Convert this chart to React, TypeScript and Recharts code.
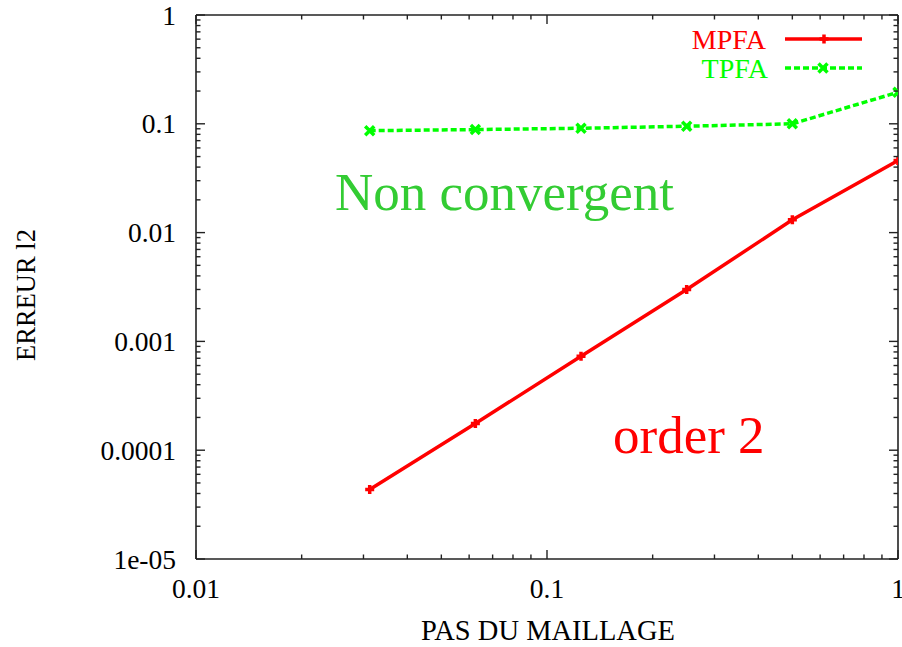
import React from 'react';
import { LineChart, Line, XAxis, YAxis } from 'recharts';

// mesh step h and L2 error of each scheme
const meshSteps = [0.03125, 0.0625, 0.125, 0.25, 0.5, 1];
const mpfaErrors = [4.35e-5, 1.76e-4, 7.3e-4, 3.0e-3, 1.31e-2, 4.6e-2];
const tpfaErrors = [0.0865, 0.0885, 0.091, 0.095, 0.1, 0.195];

const xMajorTicks = [0.01, 0.1, 1];
const xTickLabels = ['0.01', '0.1', '1'];
const yMajorTicks = [1e-5, 1e-4, 1e-3, 1e-2, 1e-1, 1];
const yTickLabels = ['1e-05', '0.0001', '0.001', '0.01', '0.1', '1'];

const data = meshSteps.map((h, i) => ({ h, mpfa: mpfaErrors[i], tpfa: tpfaErrors[i] }));

const FONT = '"Liberation Serif", "Times New Roman", serif';
const W = 902;
const H = 647;
const PLOT = { left: 196, right: 898, top: 15, bottom: 559 };

// majors plus 2..9 inside each decade
const withMinors = (majors: number[]) => {
  const out: number[] = [];
  majors.forEach((m, i) => {
    out.push(m);
    if (i < majors.length - 1) for (let k = 2; k <= 9; k++) out.push(m * k);
  });
  return out;
};

const majorIndex = (majors: number[], v: number) =>
  majors.findIndex((m) => Math.abs(Math.log10(m) - Math.log10(v)) < 1e-6);

const makeTick =
  (side: 'bottom' | 'top' | 'left' | 'right', majors: number[], labels?: string[]) =>
  (props: any) => {
    const { x, y, payload } = props;
    const idx = majorIndex(majors, payload.value);
    const len = idx >= 0 ? 9 : 4.5;
    let x2 = x;
    let y2 = y;
    if (side === 'bottom') y2 = y - len;
    if (side === 'top') y2 = y + len;
    if (side === 'left') x2 = x + len;
    if (side === 'right') x2 = x - len;
    return (
      <g>
        <line x1={x} y1={y} x2={x2} y2={y2} stroke="#222" strokeWidth={1.4} />
        {labels && idx >= 0 && side === 'bottom' && (
          <text x={x} y={y + 39} textAnchor="middle" fontFamily={FONT} fontSize={27.5} fill="#000">
            {labels[idx]}
          </text>
        )}
        {labels && idx >= 0 && side === 'left' && (
          <text x={x - 20} y={y} textAnchor="end" dominantBaseline="central" fontFamily={FONT} fontSize={27.5} fill="#000">
            {labels[idx]}
          </text>
        )}
      </g>
    );
  };

const plusDot = (props: any) => {
  const { cx, cy, index } = props;
  return (
    <path
      key={`p${index}`}
      d={`M${cx - 4.5},${cy} H${cx + 4.5} M${cx},${cy - 4.5} V${cy + 4.5}`}
      stroke="#ff0000"
      strokeWidth={3.5}
      fill="none"
    />
  );
};

const crossDot = (props: any) => {
  const { cx, cy, index } = props;
  return (
    <path
      key={`x${index}`}
      d={`M${cx - 4.5},${cy - 4.5} L${cx + 4.5},${cy + 4.5} M${cx - 4.5},${cy + 4.5} L${cx + 4.5},${cy - 4.5}`}
      stroke="#00ff00"
      strokeWidth={3.5}
      fill="none"
    />
  );
};

const axisLine = { stroke: '#222', strokeWidth: 1.6 };

export default function App() {
  const xTicks = withMinors(xMajorTicks);
  const yTicks = withMinors(yMajorTicks);
  return (
    <div style={{ position: 'absolute', left: 0, top: 0, width: W, height: H, background: '#fff' }}>
      <LineChart
        width={W}
        height={H}
        data={data}
        margin={{ top: PLOT.top - 1, right: W - PLOT.right - 1, left: 0, bottom: 0 }}
      >
        <XAxis
          xAxisId="bottom"
          dataKey="h"
          type="number"
          scale="log"
          domain={[0.01, 1]}
          allowDataOverflow
          ticks={xTicks}
          interval={0}
          tickSize={0}
          tickMargin={0}
          height={H - PLOT.bottom}
          axisLine={axisLine}
          tickLine={false}
          tick={makeTick('bottom', xMajorTicks, xTickLabels)}
        />
        <XAxis
          xAxisId="top"
          orientation="top"
          dataKey="h"
          type="number"
          scale="log"
          domain={[0.01, 1]}
          allowDataOverflow
          ticks={xTicks}
          interval={0}
          tickSize={0}
          tickMargin={0}
          height={1}
          axisLine={axisLine}
          tickLine={false}
          tick={makeTick('top', xMajorTicks)}
        />
        <YAxis
          yAxisId="left"
          type="number"
          scale="log"
          domain={[1e-5, 1]}
          allowDataOverflow
          ticks={yTicks}
          interval={0}
          tickSize={0}
          tickMargin={0}
          width={PLOT.left}
          axisLine={axisLine}
          tickLine={false}
          tick={makeTick('left', yMajorTicks, yTickLabels)}
        />
        <YAxis
          yAxisId="right"
          orientation="right"
          type="number"
          scale="log"
          domain={[1e-5, 1]}
          allowDataOverflow
          ticks={yTicks}
          interval={0}
          tickSize={0}
          tickMargin={0}
          width={1}
          axisLine={axisLine}
          tickLine={false}
          tick={makeTick('right', yMajorTicks)}
        />
        <Line
          xAxisId="bottom"
          yAxisId="left"
          dataKey="mpfa"
          stroke="#ff0000"
          strokeWidth={3.5}
          dot={plusDot}
          activeDot={false}
          isAnimationActive={false}
        />
        <Line
          xAxisId="bottom"
          yAxisId="left"
          dataKey="tpfa"
          stroke="#00ff00"
          strokeWidth={3.5}
          strokeDasharray="6 3"
          dot={crossDot}
          activeDot={false}
          isAnimationActive={false}
        />

        {/* legend */}
        <text x={766} y={39} textAnchor="end" dominantBaseline="central" fontFamily={FONT} fontSize={28} fill="#ff0000">
          MPFA
        </text>
        <line x1={785} y1={39} x2={862} y2={39} stroke="#ff0000" strokeWidth={3.5} />
        {plusDot({ cx: 824, cy: 39, index: 'leg' })}
        <text x={768} y={68} textAnchor="end" dominantBaseline="central" fontFamily={FONT} fontSize={28} fill="#00ff00">
          TPFA
        </text>
        <line x1={785} y1={68} x2={862} y2={68} stroke="#00ff00" strokeWidth={3.5} strokeDasharray="6 3" />
        {crossDot({ cx: 823, cy: 68, index: 'leg' })}

        {/* annotations */}
        <text x={335} y={210} fontFamily={FONT} fontSize={53} fill="#33cc33">
          Non convergent
        </text>
        <text x={613} y={453} fontFamily={FONT} fontSize={53} fill="#ff0000">
          order 2
        </text>

        {/* axis titles */}
        <text x={548} y={640} textAnchor="middle" fontFamily={FONT} fontSize={28.5} fill="#000">
          PAS DU MAILLAGE
        </text>
        <text
          x={26}
          y={295}
          textAnchor="middle"
          dominantBaseline="central"
          transform="rotate(-90 26 295)"
          fontFamily={FONT}
          fontSize={26.5}
          fill="#000"
        >
          ERREUR l2
        </text>
      </LineChart>
    </div>
  );
}
